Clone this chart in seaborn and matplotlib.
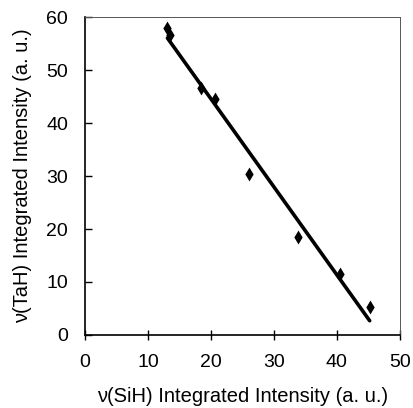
import seaborn as sns
import matplotlib.pyplot as plt
import pandas as pd

sih = [13.1, 13.5, 18.4, 20.6, 26.1, 33.9, 40.5, 45.2]
tah = [57.9, 56.7, 46.7, 44.5, 30.3, 18.5, 11.5, 5.3]
df = pd.DataFrame({'sih': sih, 'tah': tah})

sns.set_style('ticks')
plt.rcParams['font.family'] = ['Liberation Sans', 'DejaVu Sans']
plt.rcParams['text.color'] = 'black'
plt.rcParams['axes.labelcolor'] = 'black'
plt.rcParams['xtick.color'] = 'black'
plt.rcParams['ytick.color'] = 'black'

fig = plt.figure(figsize=(4.14, 4.08), dpi=100)
ax = fig.add_axes([0.205, 0.179, 0.761, 0.779])

sns.regplot(x='sih', y='tah', data=df, ci=None, ax=ax, marker='d',
            scatter_kws={'color': 'black', 's': 50, 'linewidths': 0, 'alpha': 1},
            line_kws={'color': 'black', 'linewidth': 2.6})

ax.set_xlim(0, 50)
ax.set_ylim(0, 60)
ax.set_xticks(range(0, 51, 10))
ax.set_yticks(range(0, 61, 10))
ax.set_xlabel('\u03bd(SiH) Integrated Intensity (a. u.)', fontsize=14.5, labelpad=12)
ax.set_ylabel('\u03bd(TaH) Integrated Intensity (a. u.)', fontsize=14.5, labelpad=10)
ax.tick_params(axis='x', direction='inout', length=7, width=1, labelsize=14, pad=10)
ax.tick_params(axis='y', direction='in', length=5, width=1, labelsize=14, pad=12)
for s in ['left', 'bottom']:
    ax.spines[s].set_linewidth(1.2)
    ax.spines[s].set_color('black')
for s in ['top', 'right']:
    ax.spines[s].set_linewidth(0.7)
    ax.spines[s].set_color('#555555')

fig.savefig('out.png', dpi=100)
